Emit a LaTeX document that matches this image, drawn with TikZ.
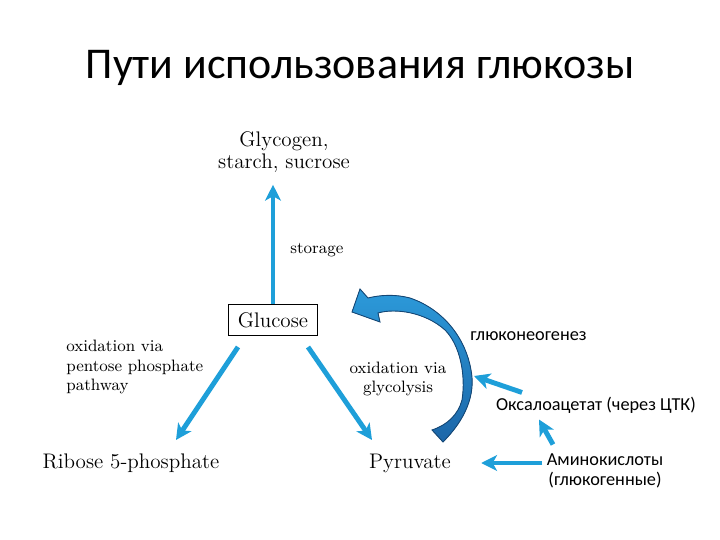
\documentclass[tikz,border=0pt]{standalone}
\usepackage{fontspec}
\newfontfamily\rufont{Carlito}
\usetikzlibrary{arrows.meta}
\definecolor{flowblue}{HTML}{1E9FD9}
\definecolor{curvelight}{HTML}{2C9ADA}
\definecolor{curvedark}{HTML}{1C66A8}
\tikzset{
  flow/.style={line width=2.8pt, draw=flowblue, -{Stealth[length=9pt,width=9pt,inset=2.5pt]}},
  smalltext/.style={font=\fontsize{9.4}{11}\selectfont, inner sep=0pt},
  bigtext/.style={font=\fontsize{12}{12.5}\selectfont, inner sep=0pt},
  rutext/.style={font=\rufont\fontsize{10.4}{11.4}\selectfont, inner sep=0pt},
}
\begin{document}
\begin{tikzpicture}[x=0.02cm, y=-0.02cm]
\useasboundingbox (0,0) rectangle (720,540);

% Title
\node[font=\rufont\fontsize{25}{30}\selectfont] (title) at (360,68) {Пути использования глюкозы};

% Compounds
\node[bigtext, align=center] (glycogen) at (284,152) {Glycogen,\\starch, sucrose};
\node[bigtext, draw, line width=0.6pt, minimum width=50.6pt, minimum height=18pt] (glucose) at (273,320) {Glucose};
\node[bigtext] (ribose) at (131,463) {Ribose 5-phosphate};
\node[bigtext] (pyruvate) at (410,463) {Pyruvate};

% Pathway labels
\node[smalltext, anchor=west] (storage) at (290,250) {storage};
\node[smalltext, align=left, anchor=north west] (pentose) at (66,340) {oxidation via\\pentose phosphate\\pathway};
\node[smalltext, align=center] (glycolysis) at (398,379) {oxidation via\\glycolysis};

% Russian labels
\node[rutext, anchor=west] (gluconeo) at (470,336) {глюконеогенез};
\node[rutext] (oxalo) at (596,405) {Оксалоацетат (через ЦТК)};
\node[rutext, align=center] (amino) at (605,471) {Аминокислоты\\(глюкогенные)};

% Arrow ends
\coordinate (leftfrom) at (238,347);
\coordinate (leftto) at (176,440);
\coordinate (rightfrom) at (308,347);
\coordinate (rightto) at (372,440);
\coordinate (curvein) at (474,376);

% Drawing arrows
\draw[flow] (glucose.north) -- ([shift={(0,12)}]glucose.north |- glycogen.south);
\draw[flow] (leftfrom) -- (leftto);
\draw[flow] (rightfrom) -- (rightto);
\draw[flow] ([shift={(-52,-9)}]amino.north) -- ([shift={(-57,6)}]oxalo.south);
\draw[flow] ([shift={(-74,-4)}]oxalo.north) -- (curvein);
\draw[flow] ([shift={(-4,0)}]amino.west |- pyruvate) -- ([shift={(30,0)}]pyruvate.east);

% Drawing curved arrow
\filldraw[top color=curvelight, bottom color=curvedark, draw=curvedark!70!black, line width=0.5pt]
  (443,442) .. controls (465,420) and (476,395) .. (471,370)
  .. controls (466,340) and (445,310) .. (410,298)
  .. controls (395,294) and (380,295) .. (368,298)
  -- (360,289) -- (352,312) -- (380,322) -- (378,313)
  .. controls (395,308) and (425,312) .. (445,330)
  .. controls (460,345) and (466,375) .. (462,400)
  .. controls (458,415) and (447,425) .. (432,430) -- cycle;
\end{tikzpicture}
\end{document}
